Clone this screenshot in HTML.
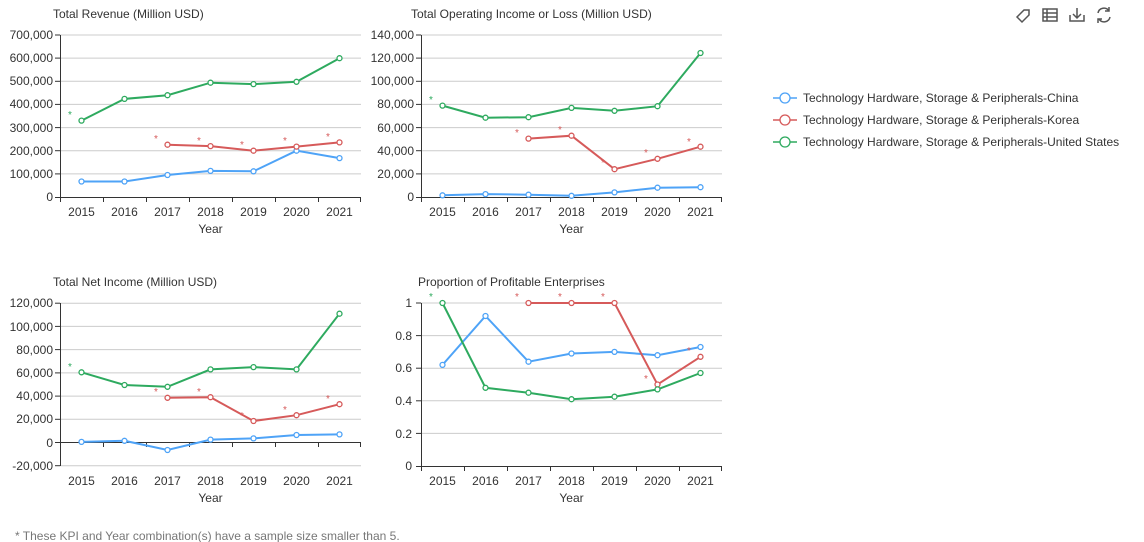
<!DOCTYPE html>
<html><head><meta charset="utf-8"><style>
body{margin:0;background:#fff;}
svg{display:block;font-family:"Liberation Sans",Arial,sans-serif;}
.t{font-size:12px;fill:#333}
.l{font-size:12px;fill:#333}
.g{stroke:#ccc;stroke-width:1}
.ax{stroke:#333;stroke-width:1}
.b{fill:none;stroke:#4ea3f7;stroke-width:2}
.r{fill:none;stroke:#d65a5a;stroke-width:2}
.gr{fill:none;stroke:#2eaa5f;stroke-width:2}
.cb{fill:#fff;stroke:#4ea3f7;stroke-width:1.3}
.cr{fill:#fff;stroke:#d65a5a;stroke-width:1.3}
.cg{fill:#fff;stroke:#2eaa5f;stroke-width:1.3}
.sr{font-size:10px;fill:#d65a5a}
.sg{font-size:10px;fill:#2eaa5f}
</style></head><body>
<svg width="1144" height="542" viewBox="0 0 1144 542">
<!-- Chart 1 -->
<text class="t" x="53" y="18">Total Revenue (Million USD)</text>
<g class="g"><line x1="60" x2="361" y1="173.9" y2="173.9"/><line x1="60" x2="361" y1="150.7" y2="150.7"/><line x1="60" x2="361" y1="127.6" y2="127.6"/><line x1="60" x2="361" y1="104.4" y2="104.4"/><line x1="60" x2="361" y1="81.3" y2="81.3"/><line x1="60" x2="361" y1="58.1" y2="58.1"/><line x1="60" x2="361" y1="35" y2="35"/></g>
<g class="ax"><line x1="60" x2="361" y1="197.5" y2="197.5"/><line x1="60.5" x2="60.5" y1="35" y2="202"/>
<line x1="103.5" x2="103.5" y1="197" y2="202"/><line x1="146.5" x2="146.5" y1="197" y2="202"/><line x1="189.5" x2="189.5" y1="197" y2="202"/><line x1="232.5" x2="232.5" y1="197" y2="202"/><line x1="275.5" x2="275.5" y1="197" y2="202"/><line x1="318.5" x2="318.5" y1="197" y2="202"/><line x1="360.5" x2="360.5" y1="197" y2="202"/>
<line x1="55" x2="60" y1="197.5" y2="197.5"/><line x1="55" x2="60" y1="173.9" y2="173.9"/><line x1="55" x2="60" y1="150.7" y2="150.7"/><line x1="55" x2="60" y1="127.6" y2="127.6"/><line x1="55" x2="60" y1="104.4" y2="104.4"/><line x1="55" x2="60" y1="81.3" y2="81.3"/><line x1="55" x2="60" y1="58.1" y2="58.1"/><line x1="55" x2="60" y1="35" y2="35"/></g>
<g class="l" text-anchor="end"><text x="53" y="201">0</text><text x="53" y="178">100,000</text><text x="53" y="155">200,000</text><text x="53" y="132">300,000</text><text x="53" y="108">400,000</text><text x="53" y="85">500,000</text><text x="53" y="62">600,000</text><text x="53" y="39">700,000</text></g>
<g class="l" text-anchor="middle"><text x="81.5" y="216">2015</text><text x="124.5" y="216">2016</text><text x="167.5" y="216">2017</text><text x="210.5" y="216">2018</text><text x="253.5" y="216">2019</text><text x="296.5" y="216">2020</text><text x="339.5" y="216">2021</text><text x="210.5" y="233">Year</text></g>
<polyline class="b" points="81.5,181.5 124.5,181.5 167.5,175 210.5,170.9 253.5,171.3 296.5,150.7 339.5,158.1"/>
<polyline class="r" points="167.5,144.7 210.5,146.1 253.5,150.7 296.5,146.6 339.5,142.4"/>
<polyline class="gr" points="81.5,120.6 124.5,98.9 167.5,95.2 210.5,82.7 253.5,84.1 296.5,81.8 339.5,58.2"/>
<g class="cb"><circle cx="81.5" cy="181.5" r="2.5"/><circle cx="124.5" cy="181.5" r="2.5"/><circle cx="167.5" cy="175" r="2.5"/><circle cx="210.5" cy="170.9" r="2.5"/><circle cx="253.5" cy="171.3" r="2.5"/><circle cx="296.5" cy="150.7" r="2.5"/><circle cx="339.5" cy="158.1" r="2.5"/></g>
<g class="cr"><circle cx="167.5" cy="144.7" r="2.5"/><circle cx="210.5" cy="146.1" r="2.5"/><circle cx="253.5" cy="150.7" r="2.5"/><circle cx="296.5" cy="146.6" r="2.5"/><circle cx="339.5" cy="142.4" r="2.5"/></g>
<g class="cg"><circle cx="81.5" cy="120.6" r="2.5"/><circle cx="124.5" cy="98.9" r="2.5"/><circle cx="167.5" cy="95.2" r="2.5"/><circle cx="210.5" cy="82.7" r="2.5"/><circle cx="253.5" cy="84.1" r="2.5"/><circle cx="296.5" cy="81.8" r="2.5"/><circle cx="339.5" cy="58.2" r="2.5"/></g>
<text class="sg" x="68" y="118">*</text>
<g class="sr"><text x="154" y="142">*</text><text x="197" y="144">*</text><text x="240" y="148">*</text><text x="283" y="144">*</text><text x="326" y="140">*</text></g>

<!-- Chart 2 -->
<text class="t" x="411" y="18">Total Operating Income or Loss (Million USD)</text>
<g class="g"><line x1="421" x2="722" y1="173.9" y2="173.9"/><line x1="421" x2="722" y1="150.7" y2="150.7"/><line x1="421" x2="722" y1="127.6" y2="127.6"/><line x1="421" x2="722" y1="104.4" y2="104.4"/><line x1="421" x2="722" y1="81.3" y2="81.3"/><line x1="421" x2="722" y1="58.1" y2="58.1"/><line x1="421" x2="722" y1="35" y2="35"/></g>
<g class="ax"><line x1="421" x2="722" y1="197.5" y2="197.5"/><line x1="421.5" x2="421.5" y1="35" y2="202"/>
<line x1="464.5" x2="464.5" y1="197" y2="202"/><line x1="507.5" x2="507.5" y1="197" y2="202"/><line x1="550.5" x2="550.5" y1="197" y2="202"/><line x1="593.5" x2="593.5" y1="197" y2="202"/><line x1="636.5" x2="636.5" y1="197" y2="202"/><line x1="679.5" x2="679.5" y1="197" y2="202"/><line x1="721.5" x2="721.5" y1="197" y2="202"/>
<line x1="416" x2="421" y1="197.5" y2="197.5"/><line x1="416" x2="421" y1="173.9" y2="173.9"/><line x1="416" x2="421" y1="150.7" y2="150.7"/><line x1="416" x2="421" y1="127.6" y2="127.6"/><line x1="416" x2="421" y1="104.4" y2="104.4"/><line x1="416" x2="421" y1="81.3" y2="81.3"/><line x1="416" x2="421" y1="58.1" y2="58.1"/><line x1="416" x2="421" y1="35" y2="35"/></g>
<g class="l" text-anchor="end"><text x="414" y="201">0</text><text x="414" y="178">20,000</text><text x="414" y="155">40,000</text><text x="414" y="132">60,000</text><text x="414" y="108">80,000</text><text x="414" y="85">100,000</text><text x="414" y="62">120,000</text><text x="414" y="39">140,000</text></g>
<g class="l" text-anchor="middle"><text x="442.5" y="216">2015</text><text x="485.5" y="216">2016</text><text x="528.5" y="216">2017</text><text x="571.5" y="216">2018</text><text x="614.5" y="216">2019</text><text x="657.5" y="216">2020</text><text x="700.5" y="216">2021</text><text x="571.5" y="233">Year</text></g>
<polyline class="b" points="442.5,195.3 485.5,194.1 528.5,194.7 571.5,195.8 614.5,192.4 657.5,187.7 700.5,187.2"/>
<polyline class="r" points="528.5,138.6 571.5,135.7 614.5,169.2 657.5,158.8 700.5,146.7"/>
<polyline class="gr" points="442.5,105.6 485.5,117.7 528.5,117.2 571.5,107.9 614.5,110.8 657.5,106.2 700.5,53"/>
<g class="cb"><circle cx="442.5" cy="195.3" r="2.5"/><circle cx="485.5" cy="194.1" r="2.5"/><circle cx="528.5" cy="194.7" r="2.5"/><circle cx="571.5" cy="195.8" r="2.5"/><circle cx="614.5" cy="192.4" r="2.5"/><circle cx="657.5" cy="187.7" r="2.5"/><circle cx="700.5" cy="187.2" r="2.5"/></g>
<g class="cr"><circle cx="528.5" cy="138.6" r="2.5"/><circle cx="571.5" cy="135.7" r="2.5"/><circle cx="614.5" cy="169.2" r="2.5"/><circle cx="657.5" cy="158.8" r="2.5"/><circle cx="700.5" cy="146.7" r="2.5"/></g>
<g class="cg"><circle cx="442.5" cy="105.6" r="2.5"/><circle cx="485.5" cy="117.7" r="2.5"/><circle cx="528.5" cy="117.2" r="2.5"/><circle cx="571.5" cy="107.9" r="2.5"/><circle cx="614.5" cy="110.8" r="2.5"/><circle cx="657.5" cy="106.2" r="2.5"/><circle cx="700.5" cy="53" r="2.5"/></g>
<text class="sg" x="429" y="103">*</text>
<g class="sr"><text x="515" y="136">*</text><text x="558" y="133">*</text><text x="601" y="166">*</text><text x="644" y="156">*</text><text x="687" y="145">*</text></g>

<!-- Chart 3 -->
<text class="t" x="53" y="286">Total Net Income (Million USD)</text>
<g class="g"><line x1="60" x2="361" y1="465.7" y2="465.7"/><line x1="60" x2="361" y1="419.3" y2="419.3"/><line x1="60" x2="361" y1="396.1" y2="396.1"/><line x1="60" x2="361" y1="372.9" y2="372.9"/><line x1="60" x2="361" y1="349.6" y2="349.6"/><line x1="60" x2="361" y1="326.4" y2="326.4"/><line x1="60" x2="361" y1="303.2" y2="303.2"/></g>
<g class="ax"><line x1="60" x2="361" y1="442.5" y2="442.5"/><line x1="60.5" x2="60.5" y1="303" y2="466"/>
<line x1="103.5" x2="103.5" y1="442" y2="447"/><line x1="146.5" x2="146.5" y1="442" y2="447"/><line x1="189.5" x2="189.5" y1="442" y2="447"/><line x1="232.5" x2="232.5" y1="442" y2="447"/><line x1="275.5" x2="275.5" y1="442" y2="447"/><line x1="318.5" x2="318.5" y1="442" y2="447"/><line x1="360.5" x2="360.5" y1="442" y2="447"/>
<line x1="55" x2="60" y1="465.7" y2="465.7"/><line x1="55" x2="60" y1="442.5" y2="442.5"/><line x1="55" x2="60" y1="419.3" y2="419.3"/><line x1="55" x2="60" y1="396.1" y2="396.1"/><line x1="55" x2="60" y1="372.9" y2="372.9"/><line x1="55" x2="60" y1="349.6" y2="349.6"/><line x1="55" x2="60" y1="326.4" y2="326.4"/><line x1="55" x2="60" y1="303.2" y2="303.2"/></g>
<g class="l" text-anchor="end"><text x="53" y="470">-20,000</text><text x="53" y="447">0</text><text x="53" y="423">20,000</text><text x="53" y="400">40,000</text><text x="53" y="377">60,000</text><text x="53" y="354">80,000</text><text x="53" y="331">100,000</text><text x="53" y="307">120,000</text></g>
<g class="l" text-anchor="middle"><text x="81.5" y="485">2015</text><text x="124.5" y="485">2016</text><text x="167.5" y="485">2017</text><text x="210.5" y="485">2018</text><text x="253.5" y="485">2019</text><text x="296.5" y="485">2020</text><text x="339.5" y="485">2021</text><text x="210.5" y="502">Year</text></g>
<polyline class="b" points="81.5,441.9 124.5,440.8 167.5,450 210.5,439.6 253.5,438.4 296.5,435 339.5,434.4"/>
<polyline class="r" points="167.5,397.8 210.5,397.2 253.5,421 296.5,415.2 339.5,404.2"/>
<polyline class="gr" points="81.5,372.3 124.5,385 167.5,386.8 210.5,369.4 253.5,367.1 296.5,369.4 339.5,313.7"/>
<g class="cb"><circle cx="81.5" cy="441.9" r="2.5"/><circle cx="124.5" cy="440.8" r="2.5"/><circle cx="167.5" cy="450" r="2.5"/><circle cx="210.5" cy="439.6" r="2.5"/><circle cx="253.5" cy="438.4" r="2.5"/><circle cx="296.5" cy="435" r="2.5"/><circle cx="339.5" cy="434.4" r="2.5"/></g>
<g class="cr"><circle cx="167.5" cy="397.8" r="2.5"/><circle cx="210.5" cy="397.2" r="2.5"/><circle cx="253.5" cy="421" r="2.5"/><circle cx="296.5" cy="415.2" r="2.5"/><circle cx="339.5" cy="404.2" r="2.5"/></g>
<g class="cg"><circle cx="81.5" cy="372.3" r="2.5"/><circle cx="124.5" cy="385" r="2.5"/><circle cx="167.5" cy="386.8" r="2.5"/><circle cx="210.5" cy="369.4" r="2.5"/><circle cx="253.5" cy="367.1" r="2.5"/><circle cx="296.5" cy="369.4" r="2.5"/><circle cx="339.5" cy="313.7" r="2.5"/></g>
<text class="sg" x="68" y="370">*</text>
<g class="sr"><text x="154" y="395">*</text><text x="197" y="395">*</text><text x="240" y="419">*</text><text x="283" y="413">*</text><text x="326" y="402">*</text></g>

<!-- Chart 4 -->
<text class="t" x="418" y="286">Proportion of Profitable Enterprises</text>
<g class="g"><line x1="421" x2="722" y1="433.4" y2="433.4"/><line x1="421" x2="722" y1="400.8" y2="400.8"/><line x1="421" x2="722" y1="368.2" y2="368.2"/><line x1="421" x2="722" y1="335.6" y2="335.6"/><line x1="421" x2="722" y1="303" y2="303"/></g>
<g class="ax"><line x1="421" x2="722" y1="466.5" y2="466.5"/><line x1="421.5" x2="421.5" y1="303" y2="471"/>
<line x1="464.5" x2="464.5" y1="466" y2="471"/><line x1="507.5" x2="507.5" y1="466" y2="471"/><line x1="550.5" x2="550.5" y1="466" y2="471"/><line x1="593.5" x2="593.5" y1="466" y2="471"/><line x1="636.5" x2="636.5" y1="466" y2="471"/><line x1="679.5" x2="679.5" y1="466" y2="471"/><line x1="721.5" x2="721.5" y1="466" y2="471"/>
<line x1="416" x2="421" y1="466.5" y2="466.5"/><line x1="416" x2="421" y1="433.4" y2="433.4"/><line x1="416" x2="421" y1="400.8" y2="400.8"/><line x1="416" x2="421" y1="368.2" y2="368.2"/><line x1="416" x2="421" y1="335.6" y2="335.6"/><line x1="416" x2="421" y1="303" y2="303"/></g>
<g class="l" text-anchor="end"><text x="412" y="470">0</text><text x="412" y="438">0.2</text><text x="412" y="405">0.4</text><text x="412" y="372">0.6</text><text x="412" y="340">0.8</text><text x="412" y="307">1</text></g>
<g class="l" text-anchor="middle"><text x="442.5" y="485">2015</text><text x="485.5" y="485">2016</text><text x="528.5" y="485">2017</text><text x="571.5" y="485">2018</text><text x="614.5" y="485">2019</text><text x="657.5" y="485">2020</text><text x="700.5" y="485">2021</text><text x="571.5" y="502">Year</text></g>
<polyline class="b" points="442.5,364.9 485.5,316 528.5,361.7 571.5,353.5 614.5,351.9 657.5,355.2 700.5,347"/>
<polyline class="r" points="528.5,303 571.5,303 614.5,303 657.5,384.5 700.5,356.8"/>
<polyline class="gr" points="442.5,303 485.5,387.8 528.5,392.7 571.5,399.2 614.5,396.7 657.5,389.4 700.5,373"/>
<g class="cb"><circle cx="442.5" cy="364.9" r="2.5"/><circle cx="485.5" cy="316" r="2.5"/><circle cx="528.5" cy="361.7" r="2.5"/><circle cx="571.5" cy="353.5" r="2.5"/><circle cx="614.5" cy="351.9" r="2.5"/><circle cx="657.5" cy="355.2" r="2.5"/><circle cx="700.5" cy="347" r="2.5"/></g>
<g class="cr"><circle cx="528.5" cy="303" r="2.5"/><circle cx="571.5" cy="303" r="2.5"/><circle cx="614.5" cy="303" r="2.5"/><circle cx="657.5" cy="384.5" r="2.5"/><circle cx="700.5" cy="356.8" r="2.5"/></g>
<g class="cg"><circle cx="442.5" cy="303" r="2.5"/><circle cx="485.5" cy="387.8" r="2.5"/><circle cx="528.5" cy="392.7" r="2.5"/><circle cx="571.5" cy="399.2" r="2.5"/><circle cx="614.5" cy="396.7" r="2.5"/><circle cx="657.5" cy="389.4" r="2.5"/><circle cx="700.5" cy="373" r="2.5"/></g>
<text class="sg" x="429" y="300">*</text>
<g class="sr"><text x="515" y="300">*</text><text x="558" y="300">*</text><text x="601" y="300">*</text><text x="644" y="382">*</text><text x="687" y="354">*</text></g>

<!-- Legend -->
<g><line x1="773" x2="797" y1="98" y2="98" stroke="#4ea3f7" stroke-width="1.5"/><circle cx="785" cy="98" r="5" class="cb"/><text class="l" x="803" y="102">Technology Hardware, Storage &amp; Peripherals-China</text>
<line x1="773" x2="797" y1="120" y2="120" stroke="#d65a5a" stroke-width="1.5"/><circle cx="785" cy="120" r="5" class="cr"/><text class="l" x="803" y="124">Technology Hardware, Storage &amp; Peripherals-Korea</text>
<line x1="773" x2="797" y1="142" y2="142" stroke="#2eaa5f" stroke-width="1.5"/><circle cx="785" cy="142" r="5" class="cg"/><text class="l" x="803" y="146">Technology Hardware, Storage &amp; Peripherals-United States</text></g>

<!-- Toolbox icons -->
<g fill="none" stroke="#555" stroke-width="1.5">
<path d="M1017 17 l7 -7 h5 v5 l-7 7 z"/>
<rect x="1043" y="9" width="14" height="12"/><line x1="1043" x2="1057" y1="13" y2="13"/><line x1="1043" x2="1057" y1="17" y2="17"/><line x1="1047" x2="1047" y1="9" y2="21"/>
<path d="M1070 15 v6 h14 v-6 M1077 8 v10 M1073 14 l4 4 l4 -4"/>
<path d="M1098 13 a6 6 0 0 1 11 -2 M1110 17 a6 6 0 0 1 -11 2 M1109 7 v4 h-4 M1098 23 v-4 h4"/>
</g>

<text x="15" y="540" style="font-size:12px;fill:#777">* These KPI and Year combination(s) have a sample size smaller than 5.</text>
</svg>
</body></html>
